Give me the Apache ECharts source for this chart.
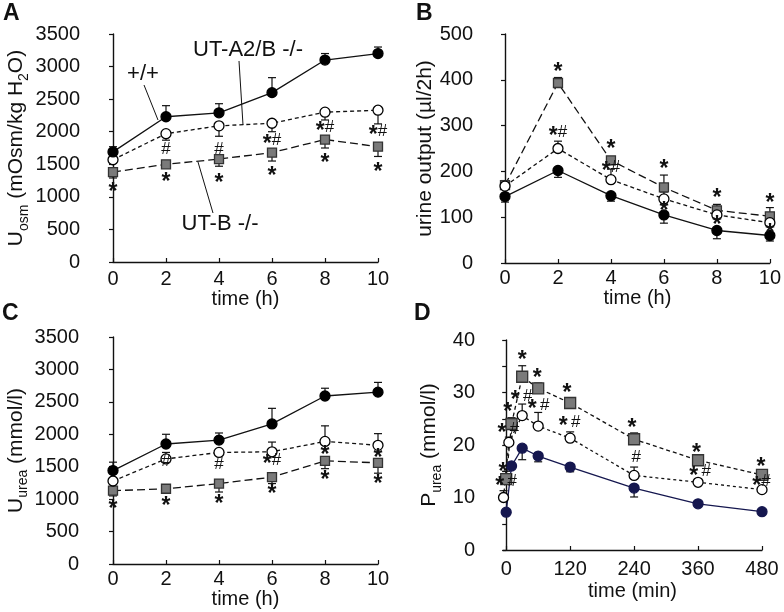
<!DOCTYPE html>
<html>
<head>
<meta charset="utf-8">
<script src="https://cdn.jsdelivr.net/npm/echarts@6/dist/echarts.min.js"></script>
<style>
  html, body { margin: 0; padding: 0; background: #fff; }
  #chart-wrapper { width: 784px; height: 612px; }
</style>
</head>
<body>
<div id="chart-wrapper"></div>
<script>
const FONT = "'Liberation Sans', Arial, sans-serif";
const INK = "#111";

// time points
const hours = [0, 2, 4, 6, 8, 10];
const minutes = [0, 10, 30, 60, 120, 240, 360, 480];
const minutesDko = [-5, 5, 30, 60, 120, 240, 360, 480];
const minuteTicks = [0, 120, 240, 360, 480];

// A: urine osmolality (mOsm/kg H2O); *Err = end of the error bar
const uosmWt = [1690, 2230, 2290, 2600, 3100, 3200];
const uosmWtErr = [1770, 2400, 2430, 2830, 3200, 3300];
const uosmDko = [1570, 1970, 2090, 2130, 2300, 2330];
const uosmDkoErr = [1530, 1870, 1930, 2000, 2180, 2120];
const uosmUtb = [1380, 1500, 1580, 1680, 1880, 1770];
const uosmUtbErr = [1290, 1460, 1470, 1550, 1750, 1620];

// B: urine output (ul/2h)
const flowWt = [145, 202, 147, 105, 71, 60];
const flowWtErr = [133, 187, 135, 87, 53, 48];
const flowDko = [168, 250, 182, 140, 105, 88];
const flowDkoErr = [178, 266, 205, 155, 118, 100];
const flowUtb = [170, 393, 224, 165, 115, 102];
const flowUtbErr = [180, 405, 230, 192, 128, 121];

// C: urine urea (mmol/l)
const uureaWt = [1440, 1850, 1910, 2160, 2590, 2650];
const uureaWtErr = [1570, 2000, 2020, 2400, 2710, 2800];
const uureaDko = [1280, 1620, 1720, 1730, 1890, 1830];
const uureaDkoErr = [1330, 1720, 1760, 1880, 2130, 2010];
const uureaUtb = [1130, 1160, 1240, 1340, 1590, 1560];
const uureaUtbErr = [1050, 1120, 1110, 1240, 1470, 1400];

// D: plasma urea (mmol/l)
const pureaWt = [7.2, 16.0, 19.4, 17.9, 15.8, 11.8, 8.8, 7.3];
const pureaWtErr = [7.2, 16.0, 17.2, 16.8, 14.9, 10.1, 8.8, 7.3];
const pureaDko = [10.0, 20.5, 25.6, 23.6, 21.3, 14.2, 12.9, 11.5];
const pureaDkoErr = [11.3, 21.5, 27.8, 26.2, 22.5, 15.8, 13.3, 12.0];
const pureaUtb = [13.5, 24.0, 33.0, 30.8, 28.0, 21.1, 17.1, 14.3];
const pureaUtbErr = [15.0, 25.2, 35.1, 31.8, 28.3, 22.3, 17.3, 14.6];

// significance marks [x, y, text]
const notesA = [
  [0, 1130, "*"], [2, 1285, "*"], [4, 1270, "*"], [6, 1380, "*"], [8, 1576, "*"], [10, 1440, "*"],
  [2, 1730, "#"], [4, 1730, "#"], [6, 1870, "*#"], [8, 2075, "*#"], [10, 2010, "*#"],
];
const notesB = [
  [2, 426, "*"], [2, 286, "*#"], [4, 257, "*"], [4, 209, "*#"], [6, 213, "*"], [6, 121, "*"],
  [8, 150, "*"], [8, 92, "*"], [10, 139, "*"], [10, 73, "*"],
];
const notesC = [
  [0, 900, "*"], [2, 952, "*"], [4, 978, "*"], [6, 1134, "*"], [8, 1352, "*"], [10, 1300, "*"],
  [2, 1576, "#"], [4, 1534, "#"], [6, 1602, "*#"], [8, 1747, "*"], [10, 1690, "*"],
];
const notesD = [
  [30, 36.9, "*"], [58, 33.4, "*"], [114, 30.6, "*"], [29, 29.3, "* #"], [61, 27.6, "* #"],
  [3, 27.1, "*"], [4, 23.0, "* #"], [119, 24.3, "* #"], [-6, 15.5, "*"], [0, 13.0, "* #"],
  [236, 24.0, "*"], [244, 17.7, "#"], [357, 19.2, "*"], [364, 14.9, "* #"],
  [478, 16.5, "*"], [479, 13.0, "*#"],
];

const chartDom = document.getElementById("chart-wrapper");
const chart = echarts.init(chartDom);

const pairs = (xs, ys) => xs.map((x, i) => [x, ys[i]]);

const STYLES = {
  wt: { symbol: "circle", size: 10, fill: "#000", border: "#000", dash: "solid" },
  dko: { symbol: "circle", size: 10, fill: "#fff", border: "#000", dash: [4, 3] },
  utb: { symbol: "rect", size: 9, fill: "#7a7a7a", border: "#333", dash: [8, 4] },
};

function lineSeries(idx, xs, ys, kind, over) {
  const s = Object.assign({}, STYLES[kind], over || {});
  return {
    type: "line",
    xAxisIndex: idx,
    yAxisIndex: idx,
    data: pairs(xs, ys),
    symbol: s.symbol,
    symbolSize: s.size,
    showAllSymbol: true,
    z: 3,
    animation: false,
    lineStyle: { color: s.line || "#111", width: 1.3, type: s.dash },
    itemStyle: { color: s.fill, borderColor: s.border, borderWidth: 1.3 },
  };
}

function errSeries(idx, xs, ys, ends, color) {
  return {
    type: "custom",
    xAxisIndex: idx,
    yAxisIndex: idx,
    z: 2,
    silent: true,
    animation: false,
    data: xs.map((x, i) => [x, ys[i], ends[i]]),
    renderItem: (params, api) => {
      const p0 = api.coord([api.value(0), api.value(1)]);
      const p1 = api.coord([api.value(0), api.value(2)]);
      if (Math.abs(p1[1] - p0[1]) < 1) return { type: "group", children: [] };
      const st = { stroke: color || INK, lineWidth: 1.2 };
      return {
        type: "group",
        children: [
          { type: "line", shape: { x1: p0[0], y1: p0[1], x2: p1[0], y2: p1[1] }, style: st },
          { type: "line", shape: { x1: p1[0] - 4, y1: p1[1], x2: p1[0] + 4, y2: p1[1] }, style: st },
        ],
      };
    },
  };
}

const markRich = {
  s: { fontFamily: FONT, fontSize: 23, fontWeight: "bold", fill: INK, color: INK, verticalAlign: "middle", lineHeight: 24, padding: [9, 0, 0, 0] },
  h: { fontFamily: FONT, fontSize: 17, fill: INK, color: INK, verticalAlign: "middle", lineHeight: 24 },
};
const toRich = (t) => t.split("").map((c) => (c === "*" ? "{s|*}" : c === "#" ? "{h|#}" : c)).join("");

function noteSeries(idx, notes) {
  return {
    type: "custom",
    xAxisIndex: idx,
    yAxisIndex: idx,
    z: 4,
    silent: true,
    animation: false,
    data: notes.map((n) => [n[0], n[1]]),
    renderItem: (params, api) => {
      const p = api.coord([api.value(0), api.value(1)]);
      return {
        type: "text",
        x: p[0],
        y: p[1],
        style: {
          text: toRich(notes[params.dataIndex][2]),
          rich: markRich,
          fill: INK,
          align: "center",
          verticalAlign: "middle",
          textAlign: "center",
          textVerticalAlign: "middle",
        },
      };
    },
  };
}

const nameRich = {
  m: { fontFamily: FONT, fontSize: 21, color: INK },
  s: { fontFamily: FONT, fontSize: 14, color: INK, verticalAlign: "bottom", lineHeight: 14, padding: [0, 0, -4, 0] },
};

const plain = (v) => String(v);

function xAxis(idx, min, max, interval, name, gap, margin, extra) {
  return Object.assign({
    gridIndex: idx,
    type: "value",
    min: min,
    max: max,
    interval: interval,
    name: name,
    nameLocation: "middle",
    nameGap: gap,
    nameTextStyle: { fontFamily: FONT, fontSize: 20, color: INK },
    axisLine: { onZero: false, lineStyle: { color: INK, width: 1.4 } },
    axisTick: { inside: true, length: 4, lineStyle: { color: INK, width: 1.2 } },
    axisLabel: { fontFamily: FONT, fontSize: 20, color: INK, margin: margin, formatter: plain },
    splitLine: { show: false },
  }, extra || {});
}

function yAxis(idx, max, interval, name, gap, offset, margin, extra) {
  return Object.assign({
    gridIndex: idx,
    type: "value",
    min: 0,
    max: max,
    interval: interval,
    offset: offset,
    name: name,
    nameLocation: "middle",
    nameGap: gap,
    nameTextStyle: { rich: nameRich },
    axisLine: { show: true, lineStyle: { color: INK, width: 1.4 } },
    axisTick: { show: true, inside: false, length: 4, lineStyle: { color: INK, width: 1.2 } },
    axisLabel: { fontFamily: FONT, fontSize: 20, color: INK, margin: margin, formatter: plain },
    splitLine: { show: false },
  }, extra || {});
}

const text = (x, y, t, font, align) => ({
  type: "text",
  x: x,
  y: y,
  style: {
    text: t,
    font: font,
    fill: INK,
    align: align || "center",
    verticalAlign: "middle",
    textAlign: align || "center",
    textVerticalAlign: "middle",
  },
});
const seg = (x1, y1, x2, y2) => ({
  type: "line",
  shape: { x1: x1, y1: y1, x2: x2, y2: y2 },
  style: { stroke: INK, lineWidth: 1 },
});

const navy = { fill: "#15174f", border: "#15174f", line: "#15174f" };

const option = {
  backgroundColor: "#fff",
  animation: false,
  grid: [
    { left: 113, right: 406, top: 34, bottom: 350 },
    { left: 505, right: 14, top: 34, bottom: 349 },
    { left: 113, right: 406, top: 337, bottom: 48 },
    { left: 503, right: 22, top: 340, bottom: 62 },
  ],
  xAxis: [
    xAxis(0, 0, 10, 2, "time (h)", 21, 7),
    xAxis(1, 0, 10, 2, "time (h)", 17, 5),
    xAxis(2, 0, 10, 2, "time (h)", 19, 5),
    xAxis(3, -6, 480, null, "time (min)", 31, 9, {
      axisTick: { inside: true, length: 4, customValues: minuteTicks, lineStyle: { color: INK, width: 1.2 } },
      axisLabel: { fontFamily: FONT, fontSize: 20, color: INK, margin: 9, customValues: minuteTicks, formatter: plain },
    }),
  ],
  yAxis: [
    yAxis(0, 3500, 500, "{m|U}{s|osm}{m| (mOsm/kg H}{s|2}{m|O)}", 58, 28, 5),
    yAxis(1, 500, 100, "{m|urine output (µl/2h)}", 44, 25, 7),
    yAxis(2, 3500, 500, "{m|U}{s|urea}{m| (mmol/l)}", 52, 27, 7),
    yAxis(3, 40, 5, "{m|P}{s|urea}{m| (mmol/l)}", 43, 20, 8, {
      axisLabel: {
        fontFamily: FONT, fontSize: 20, color: INK, margin: 8,
        formatter: (v) => (v % 10 === 0 ? String(v) : ""),
      },
    }),
  ],
  series: [
    // A
    errSeries(0, hours, uosmWt, uosmWtErr),
    errSeries(0, hours, uosmDko, uosmDkoErr),
    errSeries(0, hours, uosmUtb, uosmUtbErr),
    lineSeries(0, hours, uosmUtb, "utb"),
    lineSeries(0, hours, uosmDko, "dko"),
    lineSeries(0, hours, uosmWt, "wt"),
    noteSeries(0, notesA),
    // B
    errSeries(1, hours, flowWt, flowWtErr),
    errSeries(1, hours, flowDko, flowDkoErr),
    errSeries(1, hours, flowUtb, flowUtbErr),
    lineSeries(1, hours, flowUtb, "utb"),
    lineSeries(1, hours, flowDko, "dko"),
    lineSeries(1, hours, flowWt, "wt"),
    noteSeries(1, notesB),
    // C
    errSeries(2, hours, uureaWt, uureaWtErr),
    errSeries(2, hours, uureaDko, uureaDkoErr),
    errSeries(2, hours, uureaUtb, uureaUtbErr),
    lineSeries(2, hours, uureaUtb, "utb"),
    lineSeries(2, hours, uureaDko, "dko"),
    lineSeries(2, hours, uureaWt, "wt"),
    noteSeries(2, notesC),
    // D
    errSeries(3, minutes, pureaWt, pureaWtErr),
    errSeries(3, minutesDko, pureaDko, pureaDkoErr),
    errSeries(3, minutes, pureaUtb, pureaUtbErr),
    lineSeries(3, minutes, pureaUtb, "utb", { size: 11, dash: [4, 3] }),
    lineSeries(3, minutesDko, pureaDko, "dko", { size: 10, dash: [3, 3] }),
    lineSeries(3, minutes, pureaWt, "wt", navy),
    noteSeries(3, notesD),
  ],
  graphic: [
    text(3, 14, "A", "bold 23px " + FONT, "left"),
    text(416, 14, "B", "bold 23px " + FONT, "left"),
    text(2, 314, "C", "bold 23px " + FONT, "left"),
    text(414, 314, "D", "bold 23px " + FONT, "left"),
    text(143, 74, "+/+", "22px " + FONT),
    text(248, 50, "UT-A2/B -/-", "22px " + FONT),
    text(220, 224, "UT-B -/-", "22px " + FONT),
    seg(144, 85, 158, 120),
    seg(239, 61, 243, 125),
    seg(213, 213, 198, 162),
  ],
};

chart.setOption(option);
</script>
</body>
</html>
